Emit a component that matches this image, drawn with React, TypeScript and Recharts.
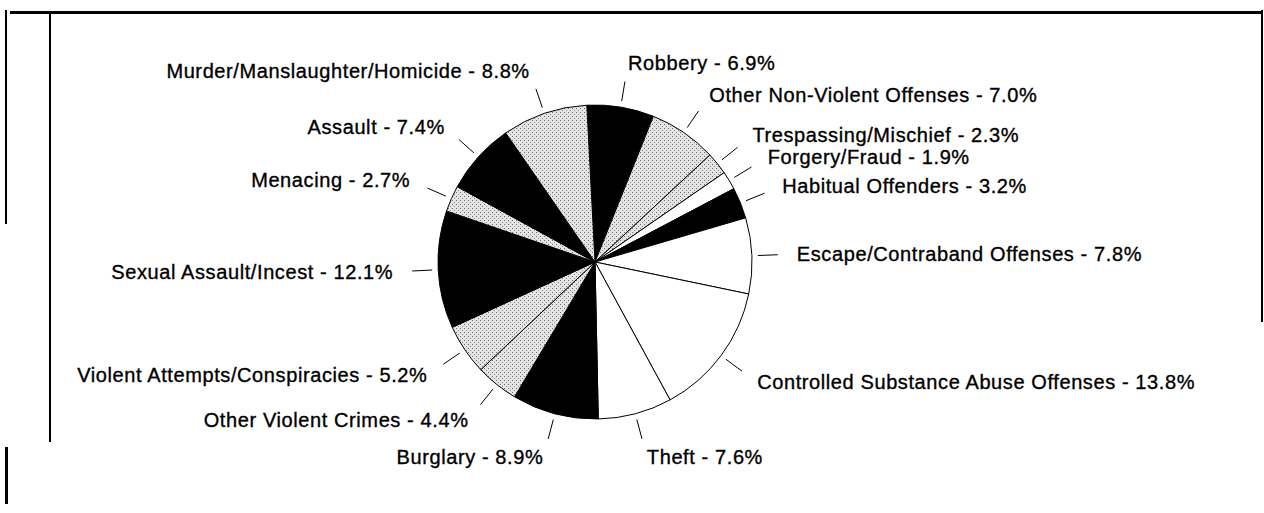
import { PieChart, Pie, Cell } from 'recharts'

// offence categories, clockwise from 12 o'clock
const categories = [
  'Robbery',
  'Other Non-Violent Offenses',
  'Trespassing/Mischief',
  'Forgery/Fraud',
  'Habitual Offenders',
  'Escape/Contraband Offenses',
  'Controlled Substance Abuse Offenses',
  'Theft',
  'Burglary',
  'Other Violent Crimes',
  'Violent Attempts/Conspiracies',
  'Sexual Assault/Incest',
  'Menacing',
  'Assault',
  'Murder/Manslaughter/Homicide',
]
const shares = [6.9, 7.0, 2.3, 1.9, 3.2, 7.8, 13.8, 7.6, 8.9, 4.4, 5.2, 12.1, 2.7, 7.4, 8.8]

const BLACK = '#000'
const GRAY = 'url(#stipple)'
const WHITE = '#fff'
const sliceFills = [BLACK, GRAY, GRAY, WHITE, BLACK, WHITE, WHITE, WHITE, BLACK, GRAY, GRAY, BLACK, GRAY, BLACK, GRAY]

const rows = categories.map((name, i) => ({ name, value: shares[i] }))

const FONT = 'Arial, "Liberation Sans", Helvetica, sans-serif'
const RAD = Math.PI / 180

function SliceLabel(props: any) {
  const { cx, cy, midAngle, outerRadius, value } = props
  const name = props.payload?.name ?? props.name
  const cos = Math.cos(-midAngle * RAD)
  const sin = Math.sin(-midAngle * RAD)
  const at = (r: number) => [cx + r * cos, cy + r * sin]
  const [x1, y1] = at(outerRadius + 6)
  const [x2, y2] = at(outerRadius + 26)
  const [tx, ty] = at(outerRadius + 45)
  return (
    <g>
      <line x1={x1} y1={y1} x2={x2} y2={y2} stroke="#000" strokeWidth={1} />
      <text
        x={tx}
        y={ty}
        textAnchor={tx > cx ? 'start' : 'end'}
        dominantBaseline="central"
        fontFamily={FONT}
        fontSize={20}
        letterSpacing={0.6}
        fill="#000"
        stroke="#000"
        strokeWidth={0.35}
      >
        {`${name} - ${Number(value).toFixed(1)}%`}
      </text>
    </g>
  )
}

const rule = (left: number, top: number, width: number, height: number) => ({
  position: 'absolute' as const,
  left,
  top,
  width,
  height,
  background: '#000',
})

export default function App() {
  return (
    <div style={{ position: 'absolute', left: 0, top: 0, width: 1264, height: 513, background: '#fff' }}>
      <svg width={0} height={0} style={{ position: 'absolute' }}>
        <defs>
          <pattern id="stipple" width={4} height={4} patternUnits="userSpaceOnUse">
            <rect width={4} height={4} fill="#e4e4e4" />
            <rect x={0} y={0} width={1} height={1} fill="#6a6a6a" />
            <rect x={2} y={2} width={1} height={1} fill="#8a8a8a" />
          </pattern>
        </defs>
      </svg>

      {/* scanned frame edges */}
      <div style={rule(10, 11, 1252, 3)} />
      <div style={rule(5, 10, 2, 214)} />
      <div style={rule(49, 12, 2, 430)} />
      <div style={rule(5, 447, 3, 57)} />
      <div style={rule(1261, 10, 2, 312)} />

      <div style={{ position: 'absolute', left: 0, top: 0 }}>
        <PieChart width={1264} height={513}>
          <Pie
            data={rows}
            dataKey="value"
            nameKey="name"
            cx={590}
            cy={257}
            outerRadius={157}
            startAngle={93}
            endAngle={-267}
            stroke="#000"
            strokeWidth={1}
            label={SliceLabel}
            labelLine={false}
            isAnimationActive={false}
          >
            {rows.map((r, i) => (
              <Cell key={r.name} fill={sliceFills[i]} />
            ))}
          </Pie>
        </PieChart>
      </div>
    </div>
  )
}
